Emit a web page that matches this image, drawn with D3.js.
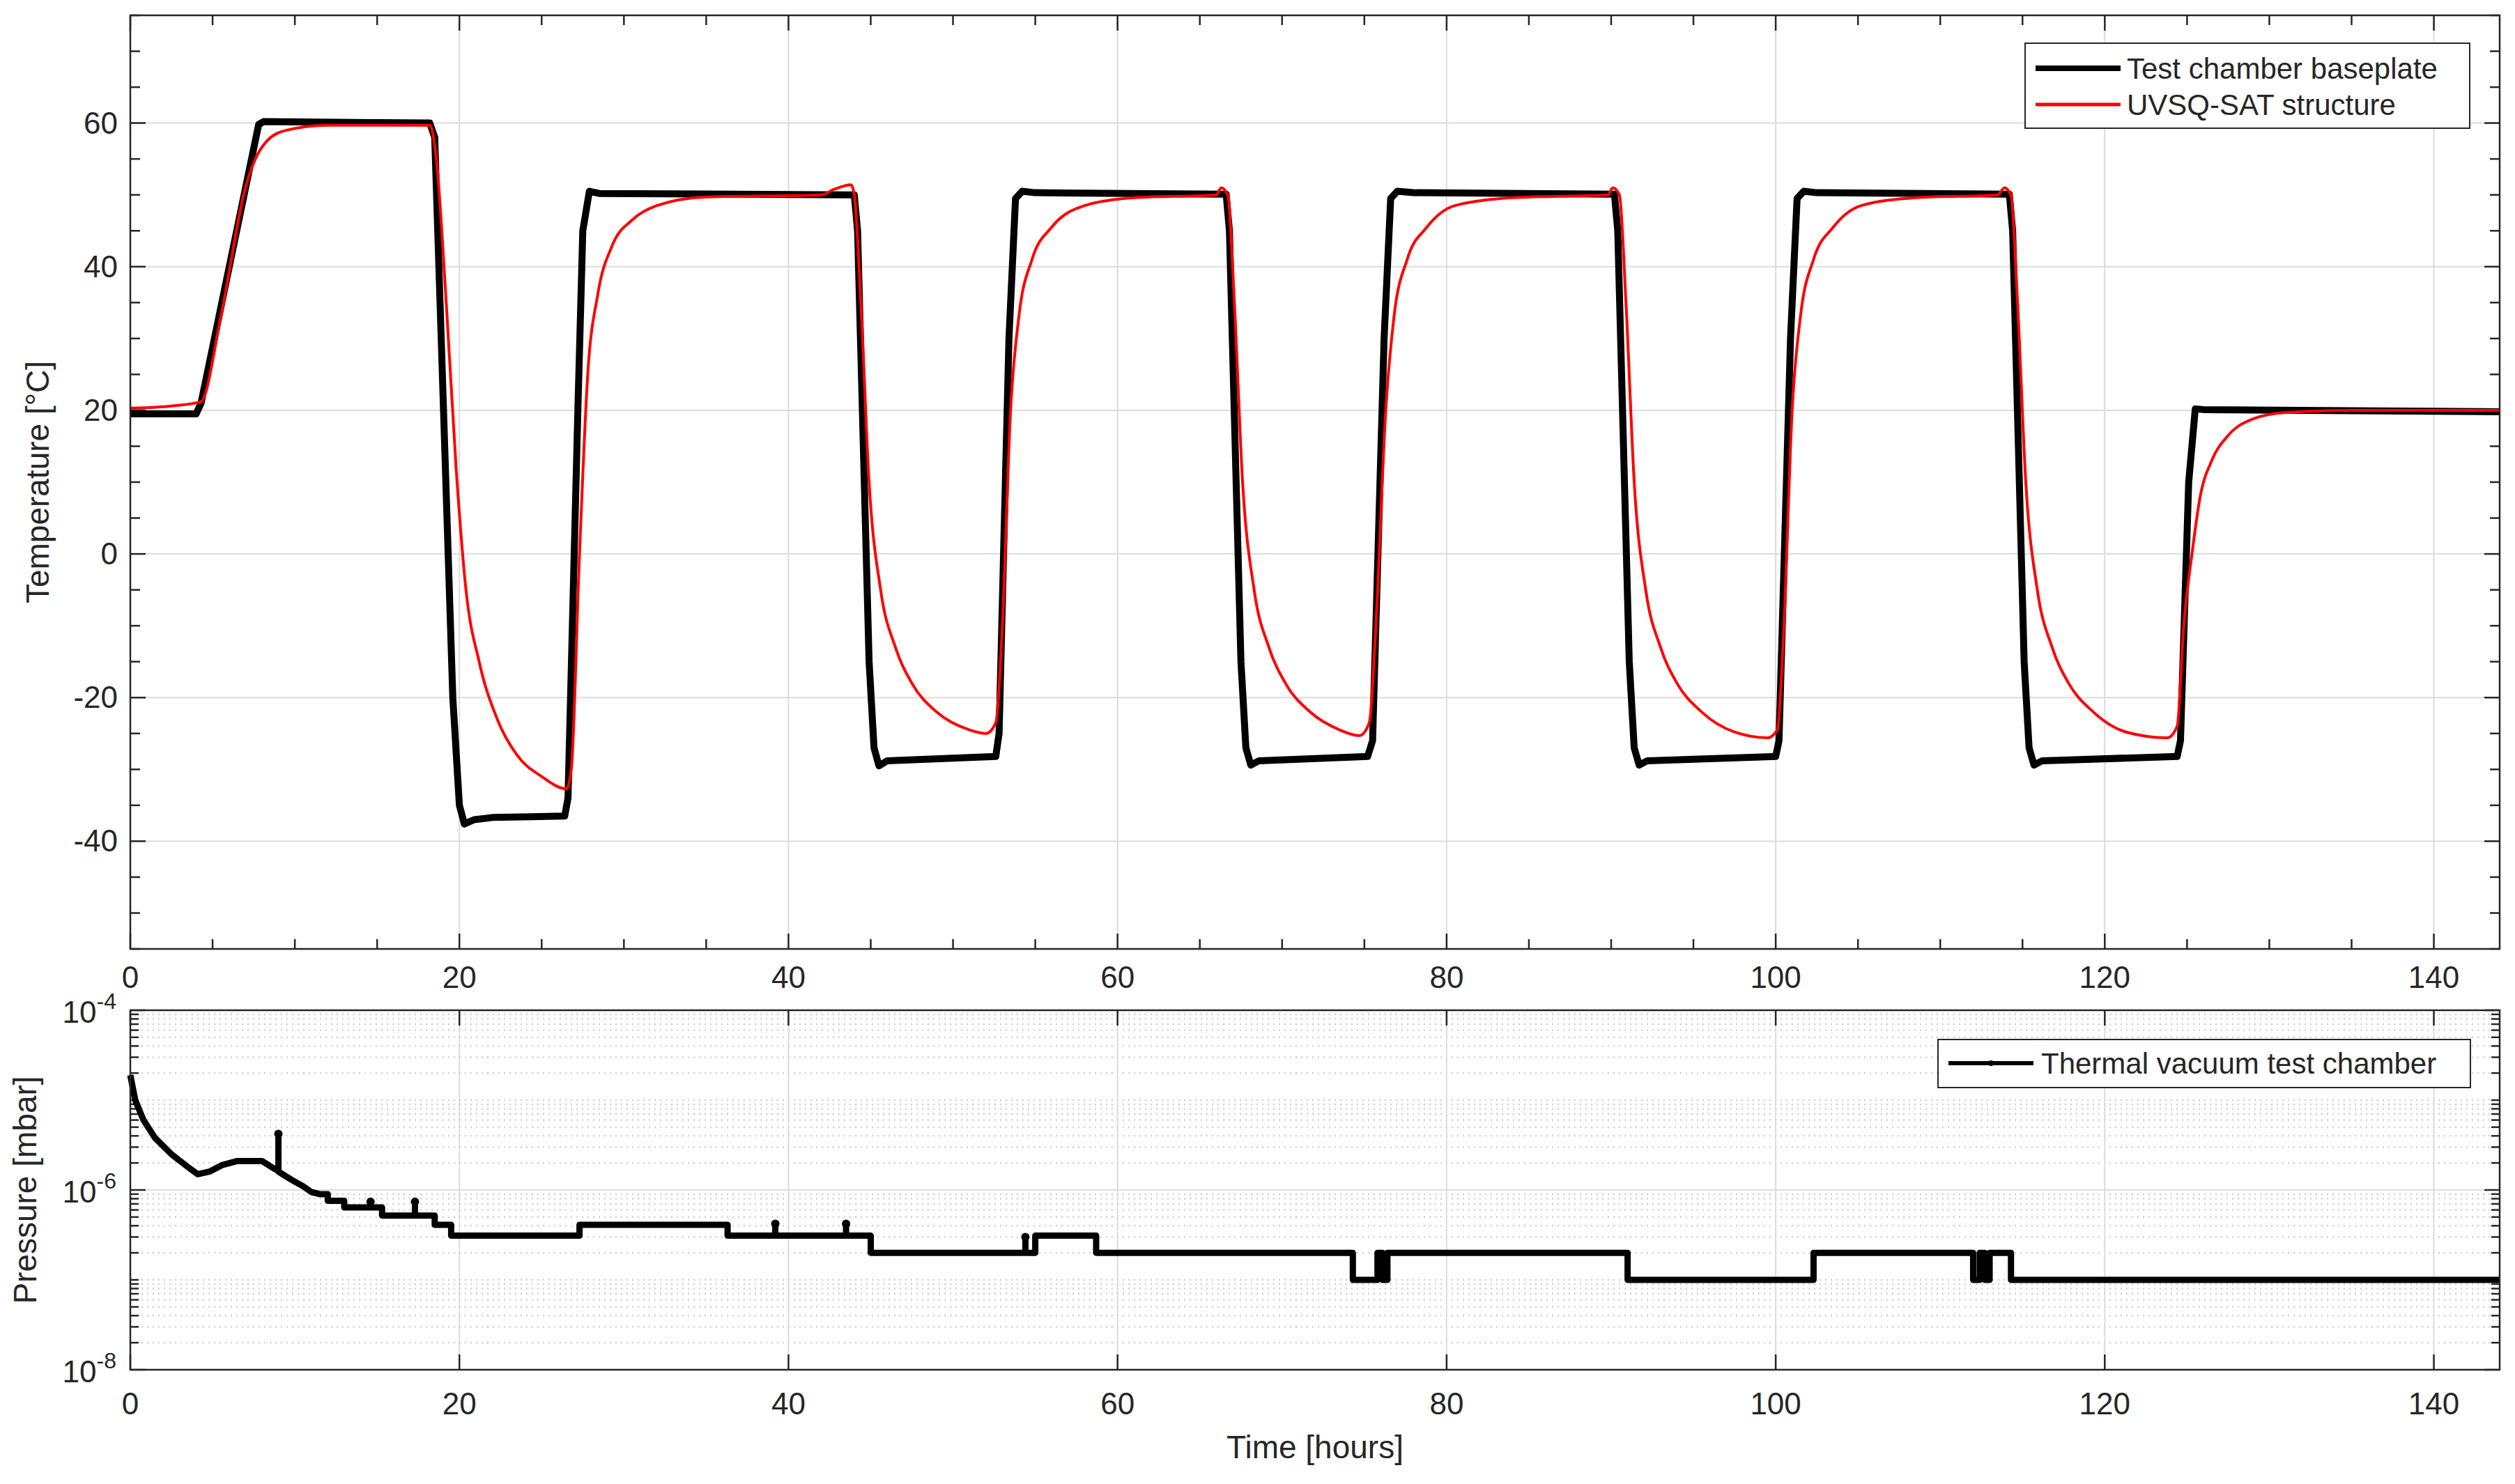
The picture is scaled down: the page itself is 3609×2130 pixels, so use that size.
<!DOCTYPE html>
<html><head><meta charset="utf-8">
<script src="https://cdn.jsdelivr.net/npm/d3@7"></script>
<style>body{margin:0;background:#fff}text{font-family:"Liberation Sans",Arial,sans-serif;fill:#262626}</style>
</head><body><svg id="c" width="3609" height="2130"></svg>
<script>
// baseplate temperature [hours, degC]
var baseplate=[[0,19.5],[4,19.5],[4.3,21],[7.8,59.8],[8.1,60.2],[18.2,60],[18.5,58],[19.6,-20],[20,-35],[20.3,-37.6],[20.9,-37],[22,-36.7],[26.4,-36.5],[26.6,-34],[27.2,20],[27.5,45],[27.9,50.5],[28.5,50.2],[44,50],[44.2,45],[44.9,-15],[45.2,-27],[45.5,-29.5],[46,-28.8],[52.6,-28.2],[52.8,-25],[53.4,30],[53.8,49.5],[54.2,50.5],[55,50.3],[66.6,50.1],[66.8,45],[67.5,-15],[67.8,-27],[68.1,-29.4],[68.6,-28.8],[75.2,-28.2],[75.5,-26],[76.2,30],[76.6,49.5],[77,50.5],[78,50.3],[90.2,50.1],[90.4,45],[91.1,-15],[91.4,-27],[91.7,-29.4],[92.2,-28.8],[100,-28.2],[100.2,-26],[100.9,30],[101.3,49.5],[101.7,50.5],[102.5,50.3],[114.2,50.1],[114.4,45],[115.1,-15],[115.4,-27],[115.7,-29.4],[116.2,-28.8],[124.4,-28.2],[124.6,-26],[125.1,10],[125.5,20.2],[126,20.1],[144,19.8]];
// satellite structure temperature [hours, degC]
var structure=[[0,20.3],[2,20.5],[3.9,21],[4.3,21.2],[5.5,33],[7,51],[7.6,55],[8.3,57.5],[9.5,59],[12,59.7],[18.2,59.7],[18.6,55],[19.2,35],[19.8,12],[20.4,-5],[21.2,-15],[22.3,-23],[23.5,-28],[25,-31],[26.5,-32.7],[26.8,-30],[27.3,0],[27.8,25],[28.4,36],[29.3,43],[30.5,46.5],[32,48.5],[35,49.7],[42,50],[42.8,50.8],[43.8,51.4],[44,50],[44.4,35],[44.9,10],[45.6,-5],[46.5,-13],[47.5,-18],[49,-22],[51,-24.5],[52,-25],[52.6,-23.5],[53,-10],[53.5,20],[54,33],[54.8,41],[56,45.5],[58,48.5],[61,49.6],[66,50],[66.3,51],[66.7,50],[67.1,35],[67.6,10],[68.3,-5],[69.2,-13],[70.2,-18],[71.7,-22],[73.5,-24.5],[74.7,-25.3],[75.3,-23.5],[75.7,-10],[76.3,20],[76.8,33],[77.6,41],[78.8,45.5],[80.5,48.5],[84,49.6],[89.8,50],[90.1,51],[90.5,50],[90.9,35],[91.4,10],[92.1,-5],[93,-13],[94,-18],[95.5,-22],[97.5,-24.8],[99.5,-25.6],[100.1,-24.5],[100.5,-10],[101,20],[101.5,33],[102.3,41],[103.5,45.5],[105.2,48.5],[108.5,49.6],[113.5,50],[113.9,51],[114.3,50],[114.7,35],[115.2,10],[115.9,-5],[116.8,-13],[117.8,-18],[119.3,-22],[121.3,-24.8],[123.8,-25.6],[124.4,-24],[124.8,-10],[125.3,0],[125.8,8],[126.5,13],[127.5,16.5],[129,18.8],[131,19.7],[135,20],[144,20]];
// chamber pressure [hours, mbar]
var pressure=[[0,1.9e-5],[0.3,1e-5],[0.8,6e-6],[1.5,3.8e-6],[2.5,2.5e-6],[3.5,1.8e-6],[4.1,1.5e-6],[4.8,1.6e-6],[5.6,1.9e-6],[6.5,2.1e-6],[8,2.1e-6],[8.8,1.7e-6],[9,1.7e-6],[9,4.2e-6],[9,1.6e-6],[9.8,1.3e-6],[10.5,1.1e-6],[11,9.5e-7],[11.5,9e-7],[12,9e-7],[12,7.6e-7],[13,7.6e-7],[13,6.4e-7],[14.6,6.4e-7],[14.6,7.4e-7],[14.6,6.4e-7],[15.3,6.4e-7],[15.3,5.2e-7],[17.3,5.2e-7],[17.3,7.4e-7],[17.3,5.2e-7],[18.5,5.2e-7],[18.5,4.1e-7],[19.5,4.1e-7],[19.5,3.1e-7],[27.3,3.1e-7],[27.3,4.1e-7],[36.3,4.1e-7],[36.3,3.1e-7],[39.2,3.1e-7],[39.2,4.2e-7],[39.2,3.1e-7],[43.5,3.1e-7],[43.5,4.2e-7],[43.5,3.1e-7],[45,3.1e-7],[45,2e-7],[54.4,2e-7],[54.4,3e-7],[54.4,2e-7],[55,2e-7],[55,3.1e-7],[58.7,3.1e-7],[58.7,2e-7],[74.3,2e-7],[74.3,1e-7],[75.8,1e-7],[75.8,2e-7],[76.1,2e-7],[76.1,1e-7],[76.4,1e-7],[76.4,2e-7],[91,2e-7],[91,1e-7],[102.3,1e-7],[102.3,2e-7],[112,2e-7],[112,1e-7],[112.4,1e-7],[112.4,2e-7],[112.7,2e-7],[112.7,1e-7],[113,1e-7],[113,2e-7],[114.3,2e-7],[114.3,1e-7],[144,1e-7]];
var xTicks=[0,20,40,60,80,100,120,140];
var tTicks=[-40,-20,0,20,40,60];
var pTicks=[1e-4,1e-6,1e-8];

var svg=d3.select("#c");
var L=187,R=3587;
var x=d3.scaleLinear().domain([0,144]).range([L,R]);
var yT=d3.scaleLinear().domain([-55,75]).range([1362,22]);
var yP=d3.scaleLog().domain([1e-8,1e-4]).range([1966,1450]);
var grid="#dcdcdc", ax="#262626";

function frame(y0,y1){
	svg.append("rect").attr("x",L).attr("y",y0).attr("width",R-L).attr("height",y1-y0)
		.attr("fill","none").attr("stroke",ax).attr("stroke-width",2.5);
}

// ---- top panel ----
var g=svg.append("g");
g.selectAll(".gx").data(xTicks).enter().append("line")
	.attr("x1",x).attr("x2",x).attr("y1",22).attr("y2",1362).attr("stroke",grid).attr("stroke-width",2);
g.selectAll(".gy").data(tTicks).enter().append("line")
	.attr("x1",L).attr("x2",R).attr("y1",yT).attr("y2",yT).attr("stroke",grid).attr("stroke-width",2);
//minor ticks every 5
d3.range(0,145,5).forEach(function(v){
	var len=v%20==0?22:14;
	g.append("line").attr("x1",x(v)).attr("x2",x(v)).attr("y1",1362).attr("y2",1362-len).attr("stroke",ax).attr("stroke-width",2.5);
	g.append("line").attr("x1",x(v)).attr("x2",x(v)).attr("y1",22).attr("y2",22+len).attr("stroke",ax).attr("stroke-width",2.5);
});
d3.range(-55,76,5).forEach(function(v){
	var len=v%20==0?22:14;
	g.append("line").attr("x1",L).attr("x2",L+len).attr("y1",yT(v)).attr("y2",yT(v)).attr("stroke",ax).attr("stroke-width",2.5);
	g.append("line").attr("x1",R).attr("x2",R-len).attr("y1",yT(v)).attr("y2",yT(v)).attr("stroke",ax).attr("stroke-width",2.5);
});
frame(22,1362);
var line=d3.line().x(function(d){return x(d[0])}).y(function(d){return yT(d[1])});
g.append("path").datum(baseplate).attr("d",line).attr("fill","none").attr("stroke","#000").attr("stroke-width",10).attr("stroke-linejoin","round");
g.append("path").datum(structure).attr("d",line.curve(d3.curveMonotoneX)).attr("fill","none").attr("stroke","#ff0000").attr("stroke-width",4);
g.selectAll(".tl").data(tTicks).enter().append("text").attr("x",L-18).attr("y",function(d){return yT(d)+15})
	.attr("text-anchor","end").attr("font-size",44).text(function(d){return d});
g.selectAll(".xl").data(xTicks).enter().append("text").attr("x",x).attr("y",1418)
	.attr("text-anchor","middle").attr("font-size",44).text(function(d){return d});
g.append("text").attr("transform","translate(70,692) rotate(-90)").attr("text-anchor","middle").attr("font-size",46).text("Temperature [°C]");
// legend
g.append("rect").attr("x",2906).attr("y",62).attr("width",638).attr("height",122).attr("fill","#fff").attr("stroke",ax).attr("stroke-width",2);
g.append("line").attr("x1",2921).attr("x2",3043).attr("y1",98).attr("y2",98).attr("stroke","#000").attr("stroke-width",8);
g.append("circle").attr("cx",2982).attr("cy",98).attr("r",4).attr("fill","#000");
g.append("line").attr("x1",2921).attr("x2",3043).attr("y1",150).attr("y2",150).attr("stroke","#ff0000").attr("stroke-width",5);
g.append("text").attr("x",3052).attr("y",113).attr("font-size",42).text("Test chamber baseplate");
g.append("text").attr("x",3052).attr("y",165).attr("font-size",42).text("UVSQ-SAT structure");

// ---- bottom panel ----
var b=svg.append("g");
var minors=[];
[-8,-7,-6,-5].forEach(function(e){for(var k=1;k<10;k++)minors.push(k*Math.pow(10,e));});
minors.push(1e-4);
b.selectAll(".mg").data(minors).enter().append("line")
	.attr("x1",L).attr("x2",R).attr("y1",yP).attr("y2",yP).attr("stroke","#c8c8c8").attr("stroke-width",2).attr("stroke-dasharray","2,6");
b.selectAll(".gx").data(xTicks).enter().append("line")
	.attr("x1",x).attr("x2",x).attr("y1",1450).attr("y2",1966).attr("stroke",grid).attr("stroke-width",2);
b.selectAll(".gy").data([1e-6]).enter().append("line")
	.attr("x1",L).attr("x2",R).attr("y1",yP).attr("y2",yP).attr("stroke",grid).attr("stroke-width",2);
minors.forEach(function(v){
	var major=pTicks.indexOf(v)>=0, len=major?22:12;
	b.append("line").attr("x1",L).attr("x2",L+len).attr("y1",yP(v)).attr("y2",yP(v)).attr("stroke",ax).attr("stroke-width",2.5);
	b.append("line").attr("x1",R).attr("x2",R-len).attr("y1",yP(v)).attr("y2",yP(v)).attr("stroke",ax).attr("stroke-width",2.5);
});
xTicks.forEach(function(v){
	b.append("line").attr("x1",x(v)).attr("x2",x(v)).attr("y1",1966).attr("y2",1944).attr("stroke",ax).attr("stroke-width",2.5);
	b.append("line").attr("x1",x(v)).attr("x2",x(v)).attr("y1",1450).attr("y2",1472).attr("stroke",ax).attr("stroke-width",2.5);
});
frame(1450,1966);
var pline=d3.line().x(function(d){return x(d[0])}).y(function(d){return yP(d[1])});
b.append("path").datum(pressure).attr("d",pline).attr("fill","none").attr("stroke","#000").attr("stroke-width",9).attr("stroke-linejoin","round");
b.selectAll(".sp").data(pressure.filter(function(d,i){return i>0&&i<pressure.length-1&&pressure[i-1][0]==d[0]&&pressure[i+1][0]==d[0]}))
	.enter().append("circle").attr("cx",function(d){return x(d[0])}).attr("cy",function(d){return yP(d[1])}).attr("r",6).attr("fill","#000");
var pl=b.selectAll(".pl").data(pTicks).enter().append("text").attr("x",L-20).attr("y",function(d){return yP(d)+18})
	.attr("text-anchor","end").attr("font-size",44);
pl.append("tspan").text("10");
pl.append("tspan").attr("dy",-20).attr("font-size",32).text(function(d){return Math.round(Math.log10(d))});
b.selectAll(".xl").data(xTicks).enter().append("text").attr("x",x).attr("y",2030)
	.attr("text-anchor","middle").attr("font-size",44).text(function(d){return d});
b.append("text").attr("x",(L+R)/2).attr("y",2093).attr("text-anchor","middle").attr("font-size",46).text("Time [hours]");
b.append("text").attr("transform","translate(52,1708) rotate(-90)").attr("text-anchor","middle").attr("font-size",46).text("Pressure [mbar]");
b.append("rect").attr("x",2781).attr("y",1492).attr("width",764).attr("height",69).attr("fill","#fff").attr("stroke",ax).attr("stroke-width",2);
b.append("line").attr("x1",2796).attr("x2",2918).attr("y1",1526).attr("y2",1526).attr("stroke","#000").attr("stroke-width",6);
b.append("circle").attr("cx",2857).attr("cy",1526).attr("r",4).attr("fill","#000");
b.append("text").attr("x",2929).attr("y",1541).attr("font-size",42).text("Thermal vacuum test chamber");
</script></body></html>
